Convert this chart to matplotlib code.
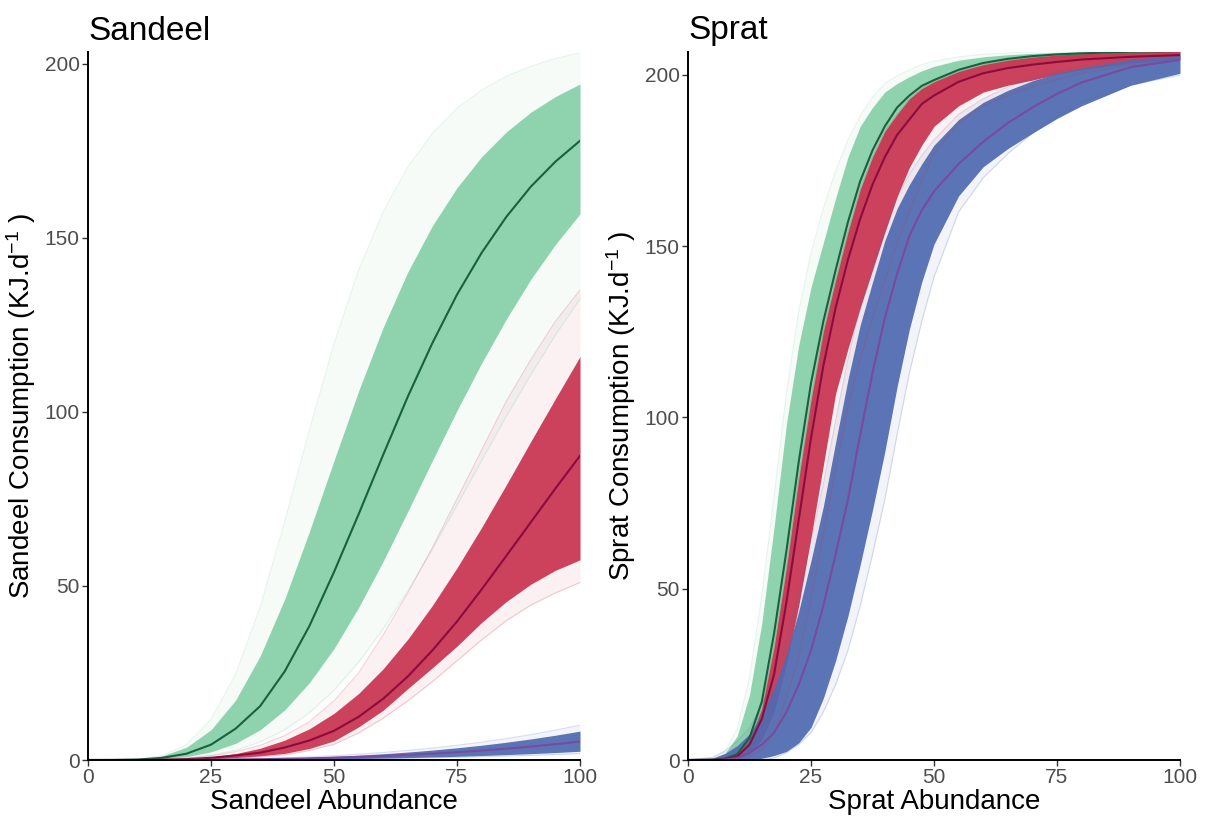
import matplotlib
matplotlib.use('Agg')
import matplotlib.pyplot as plt

plt.rcParams['font.family'] = ['Liberation Sans', 'DejaVu Sans']
plt.rcParams['mathtext.fontset'] = 'custom'
plt.rcParams['mathtext.rm'] = 'Liberation Sans'
plt.rcParams['mathtext.it'] = 'Liberation Sans:italic'

# ---- Sandeel panel ----
sandeel_x = [0, 5, 10, 15, 20, 25, 30, 35, 40, 45, 50, 55, 60, 65, 70, 75, 80, 85, 90, 95, 100]

sandeel_green_mean = [0, 0.01, 0.12, 0.6, 1.8, 4.4, 9.0, 15.5, 25.5, 38.5, 54.0, 70.6, 87.7, 104.4,
                      119.8, 133.7, 145.7, 156.0, 164.7, 171.9, 177.9]
sandeel_green_hi = [0, 0.02, 0.23, 1.17, 3.64, 8.68, 17.2, 29.9, 46.3, 65.6, 86.0, 106.0, 124.3, 140.2,
                    153.5, 164.4, 173.3, 180.4, 186.1, 190.6, 194.2]
sandeel_green_lo = [0, 0, 0.06, 0.3, 0.96, 2.33, 4.77, 8.68, 14.4, 22.2, 32.0, 43.8, 57.1, 71.4,
                    86.0, 100.4, 114.0, 126.6, 138.1, 148.1, 156.9]
sandeel_green_faint_hi = [0, 0.02, 0.2, 1.23, 4.4, 11.6, 24.6, 44.0, 68.5, 94.8, 119.5, 140.7, 157.5,
                          170.4, 180.0, 187.2, 192.4, 196.4, 199.3, 201.5, 203.2]
sandeel_green_faint_lo = [0, 0, 0.03, 0.15, 0.56, 1.37, 2.8, 5.2, 8.7, 13.6, 20.0, 28.1, 37.7, 48.6,
                          60.6, 73.2, 86.0, 98.7, 110.7, 122.1, 132.5]

sandeel_red_mean = [0, 0.002, 0.016, 0.08, 0.26, 0.63, 1.3, 2.1, 3.6, 5.6, 8.4, 12.4, 17.6, 24.0,
                    31.5, 39.8, 49.0, 58.6, 68.3, 78.0, 87.4]
sandeel_red_hi = [0, 0.003, 0.023, 0.115, 0.36, 0.89, 1.83, 3.37, 5.7, 8.97, 13.4, 19.1, 26.2, 34.7,
                  44.4, 55.2, 66.8, 79.0, 91.5, 103.8, 115.9]
sandeel_red_lo = [0, 0, 0.01, 0.05, 0.15, 0.35, 0.7, 1.2, 1.9, 3.3, 5.5, 9.5, 14.3, 20.5, 26.5,
                  32.7, 39.5, 45.5, 50.5, 54.5, 57.5]
sandeel_red_faint_hi = [0, 0.005, 0.04, 0.17, 0.5, 1.2, 2.4, 4.2, 7.0, 11.0, 17.0, 25.0, 36.0, 48.0,
                        61.0, 75.0, 89.0, 103.0, 115.0, 126.0, 135.0]
sandeel_red_faint_lo = [0, 0, 0.005, 0.03, 0.1, 0.25, 0.5, 0.9, 1.5, 2.7, 4.5, 7.8, 12.0, 17.0,
                        22.5, 28.5, 34.5, 40.0, 44.5, 48.0, 51.0]

sandeel_blue_mean = [0, 0.0007, 0.005, 0.018, 0.042, 0.083, 0.14, 0.23, 0.34, 0.48, 0.66, 0.88,
                     1.14, 1.46, 1.82, 2.24, 2.71, 3.25, 3.86, 4.54, 5.3]
sandeel_blue_hi = [0, 0.001, 0.008, 0.028, 0.066, 0.13, 0.22, 0.36, 0.53, 0.76, 1.04, 1.38, 1.79,
                   2.28, 2.85, 3.5, 4.25, 5.1, 6.05, 7.12, 8.3]
sandeel_blue_lo = [0, 0, 0.0025, 0.008, 0.02, 0.039, 0.068, 0.11, 0.16, 0.23, 0.31, 0.42, 0.54,
                   0.69, 0.86, 1.05, 1.28, 1.54, 1.82, 2.14, 2.5]
sandeel_blue_faint_hi = [0, 0.001, 0.01, 0.034, 0.08, 0.16, 0.27, 0.43, 0.64, 0.91, 1.25, 1.66,
                         2.16, 2.75, 3.43, 4.22, 5.12, 6.14, 7.29, 8.57, 10.0]
sandeel_blue_faint_lo = [0, 0, 0.002, 0.006, 0.015, 0.03, 0.05, 0.08, 0.12, 0.17, 0.23, 0.31, 0.4,
                         0.51, 0.64, 0.78, 0.95, 1.14, 1.35, 1.58, 1.85]

# ---- Sprat panel ----
sprat_x = [0, 5, 7.5, 10, 12.5, 15, 17.5, 20, 22.5, 25, 27.5, 30, 32.5, 35, 37.5, 40, 42.5, 45,
           47.5, 50, 55, 60, 65, 70, 75, 80, 90, 100]

sprat_green_mean = [0, 0.1, 0.4, 1.7, 6.5, 17, 37, 61, 87, 110, 128, 143, 157, 169, 178, 185, 190.5,
                    194, 196.8, 198.5, 201.5, 203.5, 204.7, 205.5, 206, 206.3, 206.8, 207]
sprat_green_hi = [0, 0.45, 1.9, 7, 19, 40, 68, 98, 121, 138, 151, 164, 176, 185, 190.5, 195, 197.5,
                  199.5, 201.2, 202.5, 204.3, 205.3, 205.9, 206.3, 206.6, 206.8, 207, 207.2]
sprat_green_lo = [0, 0.05, 0.2, 1.0, 4.5, 12, 25, 46, 70, 94, 115, 132, 146, 158, 168, 176, 182.5,
                  187, 191.5, 194, 198, 200.5, 202, 203, 203.8, 204.5, 205.3, 205.8]
sprat_green_faint_hi = [0, 0.6, 2.5, 9, 24, 48, 77, 107, 131, 148, 161, 172, 181, 188, 193.5, 197.5,
                        199.7, 201.5, 203, 204, 205.3, 206, 206.4, 206.8, 207, 207.1, 207.3, 207.4]

sprat_red_mean = [0, 0.05, 0.2, 1.0, 4.5, 12, 25, 46, 70, 94, 115, 132, 146, 158, 168, 176, 182.5,
                  187, 191.5, 194, 198, 200.5, 202, 203, 203.8, 204.5, 205.3, 205.8]
sprat_red_hi = [0, 0.08, 0.33, 1.4, 5.5, 15, 33, 56, 82, 105, 125, 140, 154, 166.5, 176, 183.5, 188.5,
                193, 196, 198, 201, 203, 204.3, 205.2, 205.8, 206.2, 206.7, 207]
sprat_red_lo = [0, 0.02, 0.1, 0.5, 1.7, 6, 14, 28, 45, 65, 86, 107, 120, 132, 143, 154, 164.5, 173,
                179.5, 185, 191, 195, 197, 198.5, 200.2, 201.5, 203.5, 204.5]
sprat_red_faint_lo = [0, 0.01, 0.05, 0.25, 1, 3, 8, 18, 30, 47, 66, 85, 103, 117, 129, 140, 151, 160,
                      169, 177, 186, 191, 194, 196.5, 198.7, 200.5, 203, 204.5]

sprat_blue_mean = [0, 0.02, 0.1, 0.6, 2.1, 4.5, 8, 14, 22, 32, 45, 60, 76, 95, 113, 129, 142, 153,
                   160.5, 166, 174, 180.5, 186, 190.5, 194.5, 197.8, 202.3, 204.4]
sprat_blue_hi = [0, 0.55, 1.9, 4.2, 7.6, 13.3, 21, 30.8, 43.4, 58.2, 74, 92.7, 111, 127, 139.5, 151.6,
                 161, 168, 174, 179.5, 187, 192, 195.5, 198.3, 200.5, 202, 204.5, 205.8]
sprat_blue_lo = [0, 0, 0, 0.02, 0.08, 0.5, 1.3, 2.5, 5, 9.5, 18, 29, 42, 57, 73, 90, 109, 125.8,
                 139.5, 150.6, 164.7, 173.2, 178.5, 183, 187.3, 191, 197, 200.5]
sprat_blue_faint_hi = [0, 0.8, 2.6, 5.4, 9.4, 16, 24.5, 35.5, 48.5, 64, 80.5, 99, 117, 132, 144, 155,
                       164, 171, 176.5, 181, 188.5, 193, 196.5, 199, 201, 202.5, 205, 206]
sprat_blue_faint_lo = [0, 0, 0, 0, 0.02, 0.1, 0.6, 2.1, 4.5, 8, 14, 22, 32, 45, 60, 76, 95, 113, 128,
                       141, 160, 170, 177, 183, 188, 192, 197, 200]

GREEN, RED, BLUE = '#87d0a9', '#c93450', '#506ab0'
GREEN_LINE, RED_LINE, BLUE_LINE = '#17613f', '#8c0a3e', '#7a4a9e'


def draw_band(ax, x, lo, hi, faint_lo, faint_hi, color):
    # sparse outer draws, then the dense core of the posterior curves
    ax.fill_between(x, faint_lo, faint_hi, color=color, alpha=0.07, lw=0)
    ax.plot(x, faint_lo, color=color, alpha=0.22, lw=0.8)
    ax.plot(x, faint_hi, color=color, alpha=0.22, lw=0.8)
    ax.fill_between(x, lo, hi, color=color, alpha=0.93, lw=0)


def style_axes(ax, title, xlabel, ylabel, ytop):
    ax.set_xlim(0, 100)
    ax.set_ylim(0, ytop)
    ax.set_xticks([0, 25, 50, 75, 100])
    ax.set_yticks([0, 50, 100, 150, 200])
    for side in ['top', 'right']:
        ax.spines[side].set_visible(False)
    for side in ['left', 'bottom']:
        ax.spines[side].set_color('black')
        ax.spines[side].set_linewidth(1.4)
    ax.tick_params(direction='out', length=4, width=1.0, color='#333333',
                   labelsize=15, labelcolor='#4d4d4d', pad=2)
    ax.set_title(title, loc='left', fontsize=24, pad=9)
    ax.set_xlabel(xlabel, fontsize=20, labelpad=1)
    ax.set_ylabel(ylabel, fontsize=20, labelpad=5)


fig = plt.figure(figsize=(12.05, 8.18), dpi=100)
ax_l = fig.add_axes([88 / 1205, 58 / 818, 492 / 1205, 708 / 818])
ax_r = fig.add_axes([688 / 1205, 58 / 818, 492 / 1205, 708 / 818])

draw_band(ax_l, sandeel_x, sandeel_green_lo, sandeel_green_hi,
          sandeel_green_faint_lo, sandeel_green_faint_hi, GREEN)
draw_band(ax_l, sandeel_x, sandeel_red_lo, sandeel_red_hi,
          sandeel_red_faint_lo, sandeel_red_faint_hi, RED)
draw_band(ax_l, sandeel_x, sandeel_blue_lo, sandeel_blue_hi,
          sandeel_blue_faint_lo, sandeel_blue_faint_hi, BLUE)
ax_l.plot(sandeel_x, sandeel_green_mean, color=GREEN_LINE, lw=1.5)
ax_l.plot(sandeel_x, sandeel_red_mean, color=RED_LINE, lw=1.5)
ax_l.plot(sandeel_x, sandeel_blue_mean, color=BLUE_LINE, lw=1.5)
style_axes(ax_l, 'Sandeel', 'Sandeel Abundance', 'Sandeel Consumption (KJ.d$^{-1}$ )', 203.4)

draw_band(ax_r, sprat_x, sprat_green_lo, sprat_green_hi,
          sprat_green_lo, sprat_green_faint_hi, GREEN)
draw_band(ax_r, sprat_x, sprat_red_lo, sprat_red_hi,
          sprat_red_faint_lo, sprat_red_hi, RED)
draw_band(ax_r, sprat_x, sprat_blue_lo, sprat_blue_hi,
          sprat_blue_faint_lo, sprat_blue_faint_hi, BLUE)
ax_r.plot(sprat_x, sprat_green_mean, color=GREEN_LINE, lw=1.5)
ax_r.plot(sprat_x, sprat_red_mean, color=RED_LINE, lw=1.5)
ax_r.plot(sprat_x, sprat_blue_mean, color=BLUE_LINE, lw=1.5)
style_axes(ax_r, 'Sprat', 'Sprat Abundance', 'Sprat Consumption (KJ.d$^{-1}$ )', 206.7)

fig.savefig('out.png', dpi=100)
